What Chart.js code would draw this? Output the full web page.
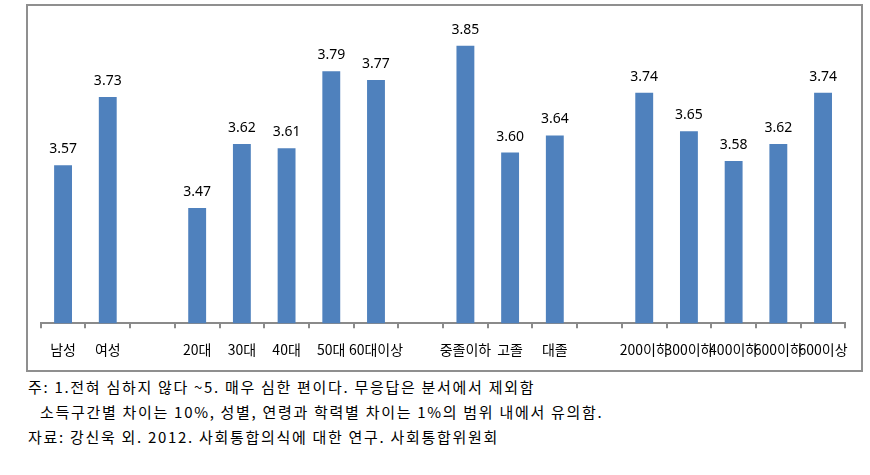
<!DOCTYPE html>
<html>
<head>
<meta charset="utf-8">
<script src="https://cdn.jsdelivr.net/npm/chart.js@4/dist/chart.umd.min.js"></script>
<style>
  body { margin: 0; background: #fff; width: 870px; height: 475px; position: relative; overflow: hidden; }
  #box { position: absolute; left: 26px; top: 4px; width: 837px; height: 368px; border: 2px solid #8f8f8f; box-sizing: border-box; }
  #notes { position: absolute; left: 28px; top: 374px; font-family: "Noto Sans CJK KR", sans-serif; font-size: 15px; letter-spacing: 1.7px; line-height: 25px; color: #000; white-space: nowrap; }
  #notes .ind { padding-left: 12px; }
</style>
</head>
<body>
<div id="box"><canvas id="chart" width="833" height="364"></canvas></div>
<div id="notes">
  <div>주: 1.전혀 심하지 않다 ~5. 매우 심한 편이다. 무응답은 분서에서 제외함</div>
  <div class="ind">소득구간별 차이는 10%, 성별, 연령과 학력별 차이는 1%의 범위 내에서 유의함.</div>
  <div>자료: 강신욱 외. 2012. 사회통합의식에 대한 연구. 사회통합위원회</div>
</div>
<script>
// categories (empty strings are the gaps between groups)
var labels = ['남성', '여성', '',
  '20대', '30대', '40대', '50대', '60대이상', '',
  '중졸이하', '고졸', '대졸', '',
  '200이하', '300이하', '400이하', '600이하', '600이상'];

// mean scores, null for the gap slots
var scores = [3.57, 3.73, null,
  3.47, 3.62, 3.61, 3.79, 3.77, null,
  3.85, 3.60, 3.64, null,
  3.74, 3.65, 3.58, 3.62, 3.74];

// axis range
var yMin = 3.2;
var yMax = 3.9;

// value labels on top of bars
var valueLabels = {
  id: 'valueLabels',
  afterDatasetsDraw: function(chart) {
    var ctx = chart.ctx;
    var meta = chart.getDatasetMeta(0);
    ctx.save();
    ctx.font = '14px "Noto Sans", sans-serif';
    ctx.fillStyle = '#000';
    ctx.textAlign = 'center';
    ctx.textBaseline = 'alphabetic';
    meta.data.forEach(function(bar, i) {
      var v = scores[i];
      if (v == null) return;
      ctx.fillText(v.toFixed(2), bar.x, bar.y - 12);
    });
    ctx.restore();
  }
};

var ctx = document.getElementById('chart').getContext('2d');
var chart = new Chart(ctx, {
  type: 'bar',
  data: {
    labels: labels,
    datasets: [{
      data: scores,
      backgroundColor: '#4f81bd',
      barPercentage: 0.4,
      categoryPercentage: 1.0
    }]
  },
  options: {
    responsive: false,
    animation: false,
    layout: { padding: { left: 12.7, right: 15, top: 18.4, bottom: 0 } },
    plugins: { legend: { display: false }, tooltip: { enabled: false } },
    scales: {
      x: {
        afterFit: function(s) { s.height = 46.7; },
        grid: { display: true, drawOnChartArea: false, drawTicks: true, tickLength: 5, offset: true, color: '#8a8a8a', lineWidth: 2 },
        border: { display: true, color: '#8a8a8a', width: 2 },
        ticks: { autoSkip: false, maxRotation: 0, minRotation: 0, padding: 13, color: '#000',
          font: { family: '"Noto Sans CJK KR", sans-serif', size: 14 } }
      },
      y: {
        display: false,
        min: yMin,
        max: yMax
      }
    }
  },
  plugins: [valueLabels]
});
</script>
</body>
</html>
